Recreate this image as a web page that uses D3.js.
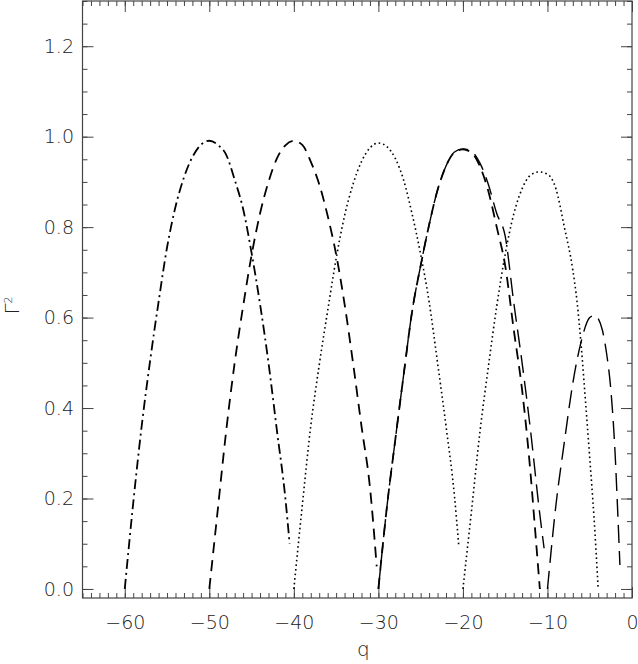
<!DOCTYPE html>
<html>
<head>
<meta charset="utf-8">
<script src="https://d3js.org/d3.v7.min.js"></script>
<style>
  body { margin: 0; background: #fff; }
  .axis path { display: none; }
  .axis line { stroke: #444; stroke-width: 1; }
  .axis text { font-family: "DejaVu Sans", sans-serif; font-size: 19px; fill: #222; font-weight: 200; }
  .frame { fill: none; stroke: #444; stroke-width: 1.2; }
  .curve { fill: none; stroke: #000; }
  .title { font-family: "DejaVu Sans", sans-serif; font-size: 20px; fill: #222; font-weight: 200; }
</style>
</head>
<body>
<div id="chart"></div>
<script>
// curve 1: dash-dot
const qA = [-60, -59, -58, -57, -56, -55, -54, -53, -52, -51, -50, -49, -48, -47, -46, -45, -44, -43, -42, -41, -40.5];
const gA = [0.0, 0.19, 0.36, 0.505, 0.635, 0.755, 0.845, 0.91, 0.955, 0.982, 0.991, 0.982, 0.96, 0.905, 0.84, 0.743, 0.63, 0.50, 0.35, 0.20, 0.10];
// curve 2: dashed
const qB = [-50, -49, -48, -47, -46, -45, -44, -43, -42, -41, -40, -39, -38, -37, -36, -35, -34, -33, -32, -31, -30.2];
const gB = [0.0, 0.175, 0.35, 0.50, 0.625, 0.738, 0.83, 0.90, 0.952, 0.981, 0.991, 0.982, 0.945, 0.895, 0.825, 0.74, 0.63, 0.50, 0.36, 0.225, 0.05];
// curve 3: dotted
const qC = [-40, -39, -38, -37, -36, -35, -34, -33, -32, -31, -30, -29, -28, -27, -26, -25, -24, -23, -22, -21, -20.5];
const gC = [0.0, 0.185, 0.36, 0.495, 0.615, 0.73, 0.825, 0.895, 0.945, 0.975, 0.986, 0.978, 0.952, 0.903, 0.828, 0.74, 0.635, 0.50, 0.36, 0.205, 0.098];
// curve 4: dashed
const qD = [-30, -29, -28, -27, -26, -25, -24, -23, -22, -21, -20, -19, -18, -17, -16, -15, -14, -13, -12, -11.5, -10.9];
const gD = [0.0, 0.18, 0.33, 0.475, 0.615, 0.715, 0.805, 0.882, 0.935, 0.965, 0.972, 0.965, 0.935, 0.88, 0.80, 0.715, 0.575, 0.44, 0.255, 0.14, 0.0];
// curve 5: long dashes
const qE = [-30, -29, -28, -27, -26, -25, -24, -23, -22, -21, -20, -19, -18, -17, -16, -15, -14, -13, -12, -11, -10.4];
const gE = [0.0, 0.18, 0.33, 0.475, 0.615, 0.715, 0.805, 0.882, 0.935, 0.966, 0.973, 0.968, 0.942, 0.895, 0.83, 0.78, 0.635, 0.50, 0.35, 0.18, 0.09];
// curve 6: dotted
const qF = [-20, -19, -18, -17, -16, -15, -14, -13, -12, -11, -10, -9, -8, -7, -6.5, -6, -5.5, -5, -4.5, -4];
const gF = [0.0, 0.17, 0.345, 0.49, 0.625, 0.74, 0.828, 0.885, 0.915, 0.922, 0.917, 0.885, 0.80, 0.705, 0.635, 0.535, 0.415, 0.29, 0.16, 0.0];
// curve 7: long dashes
const qG = [-10, -9, -8, -7, -6, -5, -4.4, -4, -3.5, -3, -2.5, -2, -1.75, -1.43];
const gG = [0.0, 0.185, 0.325, 0.455, 0.548, 0.60, 0.605, 0.598, 0.572, 0.52, 0.44, 0.30, 0.197, 0.053];

const xTicks = [-60, -50, -40, -30, -20, -10, 0];
const yTicks = [0.0, 0.2, 0.4, 0.6, 0.8, 1.0, 1.2];

const W = 638, H = 664;
const pl = 82.5, pr = 632, pt = 1, pb = 598;

const svg = d3.select("#chart").append("svg")
    .attr("width", W)
    .attr("height", H);

const x = d3.scaleLinear().domain([-65, 0]).range([pl, pr]);
const y = d3.scaleLinear().domain([-0.02, 1.3]).range([pb, pt]);

// minor ticks on all four sides
const xMinor = d3.range(-65, 1, 1);
const yMinor = d3.range(0, 1.3001, 0.05);

svg.append("g").attr("class", "axis").attr("transform", `translate(0,${pb})`)
    .call(d3.axisBottom(x).tickValues(xMinor).tickSizeInner(-5).tickSizeOuter(0).tickFormat(""));
svg.append("g").attr("class", "axis").attr("transform", `translate(0,${pt})`)
    .call(d3.axisTop(x).tickValues(xMinor).tickSizeInner(-5).tickSizeOuter(0).tickFormat(""));
svg.append("g").attr("class", "axis").attr("transform", `translate(${pl},0)`)
    .call(d3.axisLeft(y).tickValues(yMinor).tickSizeInner(-5).tickSizeOuter(0).tickFormat(""));
svg.append("g").attr("class", "axis").attr("transform", `translate(${pr},0)`)
    .call(d3.axisRight(y).tickValues(yMinor).tickSizeInner(-5).tickSizeOuter(0).tickFormat(""));

// major ticks + labels
svg.append("g").attr("class", "axis").attr("transform", `translate(0,${pb})`)
    .call(d3.axisBottom(x).tickValues(xTicks).tickSizeInner(-11).tickSizeOuter(0).tickPadding(18).tickFormat(d3.format("d")));
svg.append("g").attr("class", "axis").attr("transform", `translate(0,${pt})`)
    .call(d3.axisTop(x).tickValues(xTicks).tickSizeInner(-11).tickSizeOuter(0).tickFormat(""));
svg.append("g").attr("class", "axis").attr("transform", `translate(${pl},0)`)
    .call(d3.axisLeft(y).tickValues(yTicks).tickSizeInner(-11).tickSizeOuter(0).tickPadding(8.5).tickFormat(d3.format(".1f")));
svg.append("g").attr("class", "axis").attr("transform", `translate(${pr},0)`)
    .call(d3.axisRight(y).tickValues(yTicks).tickSizeInner(-11).tickSizeOuter(0).tickFormat(""));

svg.append("rect").attr("class", "frame")
    .attr("x", pl).attr("y", pt)
    .attr("width", pr - pl).attr("height", pb - pt);

// curves
const line = d3.line()
    .x(d => x(d[0]))
    .y(d => y(d[1]))
    .curve(d3.curveMonotoneX);

const curves = [
    { q: qA, g: gA, dash: "10,4,2,4", w: 1.8 },
    { q: qB, g: gB, dash: "11,7", w: 1.8 },
    { q: qC, g: gC, dash: "1.6,3", w: 1.6 },
    { q: qD, g: gD, dash: "11,7", w: 1.8 },
    { q: qE, g: gE, dash: "18,8", w: 1.4 },
    { q: qF, g: gF, dash: "1.6,3", w: 1.6 },
    { q: qG, g: gG, dash: "18,8", w: 1.4 }
];

const plot = svg.append("g");
plot.append("clipPath").attr("id", "clip")
    .append("rect").attr("x", pl).attr("y", pt)
    .attr("width", pr - pl).attr("height", pb - pt);

curves.forEach(c => {
    plot.append("path")
        .attr("class", "curve")
        .attr("clip-path", "url(#clip)")
        .attr("d", line(d3.zip(c.q, c.g)))
        .attr("stroke-width", c.w)
        .attr("stroke-dasharray", c.dash);
});

// axis titles
svg.append("text").attr("class", "title")
    .attr("x", (pl + pr) / 2 + 6)
    .attr("y", 656)
    .attr("text-anchor", "middle")
    .text("q");

const yt = svg.append("text").attr("class", "title")
    .attr("transform", `translate(19,${(pt + pb) / 2 + 6}) rotate(-90)`)
    .attr("text-anchor", "middle");
yt.append("tspan").text("Γ");
yt.append("tspan").attr("dy", "-0.6em").attr("font-size", "11px").text("2");
</script>
</body>
</html>
